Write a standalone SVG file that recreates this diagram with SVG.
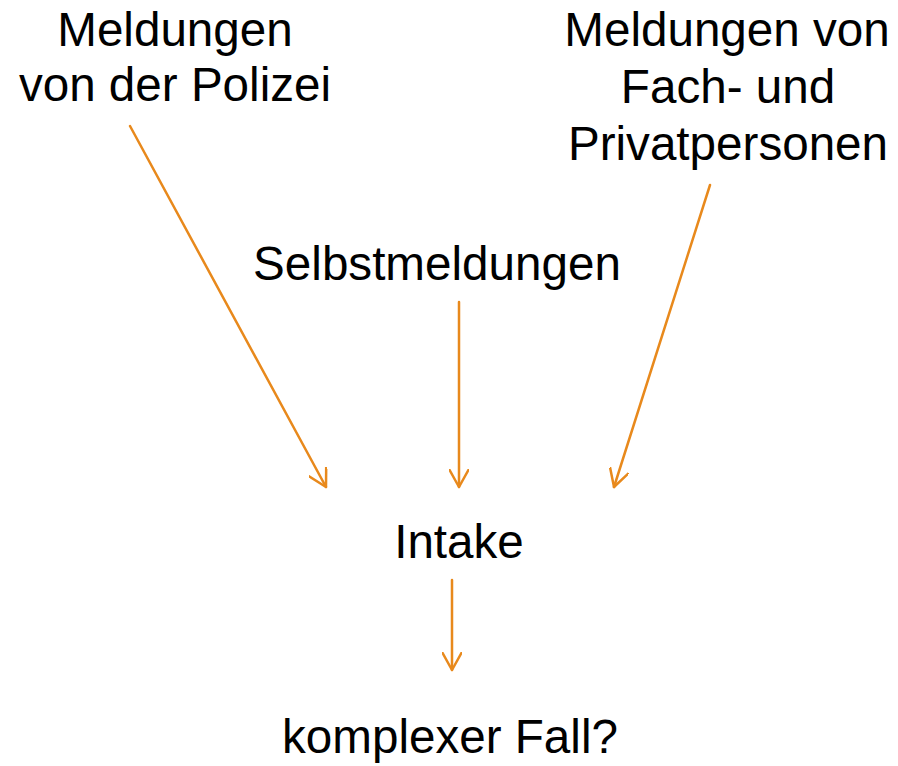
<svg xmlns="http://www.w3.org/2000/svg" width="898" height="766" viewBox="0 0 898 766">
<defs>
<style>
text{font-family:"Liberation Sans",Arial,sans-serif;font-size:47.6px;fill:#000;text-anchor:middle}
.c{stroke:#E8891C;stroke-width:2.5;fill:none;stroke-linecap:round}
</style>
<marker id="a" viewBox="0 0 20 20" refX="18" refY="10" markerWidth="20" markerHeight="20" markerUnits="userSpaceOnUse" orient="auto">
<path d="M0,0 L18,10 L0,20" fill="none" stroke="#E8891C" stroke-width="2.5" stroke-linecap="round" stroke-linejoin="round"/>
</marker>
</defs>
<rect width="898" height="766" fill="#fff"/>
<g id="polizei"><text x="175" y="46">Meldungen</text><text x="175" y="101">von der Polizei</text></g>
<g id="fach"><text x="727" y="46">Meldungen von</text><text x="728" y="103">Fach- und</text><text x="728" y="160">Privatpersonen</text></g>
<g id="selbst"><text x="437" y="280">Selbstmeldungen</text></g>
<g id="intake"><text x="459" y="558">Intake</text></g>
<g id="fall"><text x="450" y="753">komplexer Fall?</text></g>
<g id="connectors">
<line class="c" x1="130" y1="126" x2="326" y2="487" marker-end="url(#a)"/>
<line class="c" x1="459" y1="302" x2="459" y2="487" marker-end="url(#a)"/>
<line class="c" x1="710" y1="185" x2="614" y2="487" marker-end="url(#a)"/>
<line class="c" x1="452" y1="580" x2="452" y2="670" marker-end="url(#a)"/>
</g>
</svg>
